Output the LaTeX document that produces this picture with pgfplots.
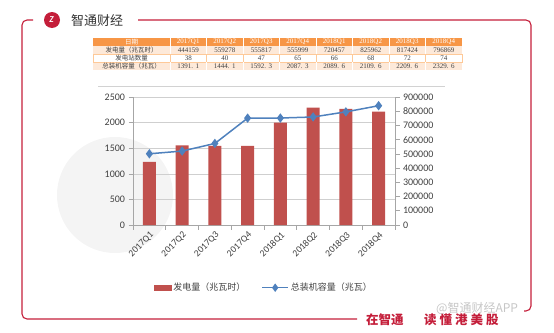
\documentclass[border=0pt]{standalone}
\usepackage{pgfplots}
\pgfplotsset{compat=1.18}
\usepackage{fontspec}
\setmainfont{Carlito}
\newfontfamily\cjk{Noto Sans CJK SC}
\newfontfamily\sernum{Liberation Serif}
\definecolor{barred}{HTML}{C0504D}
\definecolor{lineblue}{HTML}{4F81BD}
\definecolor{framered}{HTML}{C41E3A}
\definecolor{hdr}{HTML}{F79646}
\definecolor{rowbg}{HTML}{FDE9D9}
\definecolor{axgray}{HTML}{A6A6A6}
\definecolor{gridgray}{HTML}{CFCFCF}
\definecolor{lbl}{HTML}{404040}
\begin{document}
\begin{tikzpicture}[x=1pt,y=1pt]
\path[use as bounding box] (0pt,0pt) rectangle (554pt,-332pt);
% faint watermark disk
\fill[gray!9] (115,-195) circle (58pt);
% frame
\draw[framered, line width=1.1pt, rounded corners=5pt] (33,-20) -- (22,-20) -- (22,-319) -- (357,-319);
\draw[framered, line width=1.1pt, rounded corners=5pt] (138,-20) -- (531,-20) -- (531,-311) -- (524,-311);
% logo
\fill[framered] (52,-20) circle (8pt);
\node[white, font=\bfseries\itshape\fontsize{9}{9}\selectfont, inner sep=0pt] at (51.5,-20) {Z};
\node[anchor=west, font=\cjk\fontsize{13}{13}\selectfont, text=black!80, inner sep=0pt] at (71,-20.5) {智通财经};
% bottom slogan
\node[anchor=west, text=framered, font=\cjk\bfseries\fontsize{12.5}{12.5}\selectfont, inner sep=0pt] at (366,-320) {在智通};
\node[anchor=west, text=framered, font=\cjk\bfseries\fontsize{12.5}{12.5}\selectfont, inner sep=0pt] at (424,-320) {读\hspace{3pt}懂\hspace{3pt}港\hspace{3pt}美\hspace{3pt}股};
\node[anchor=west, text=gray!45, font=\cjk\fontsize{12}{12}\selectfont, inner sep=0pt] at (436,-308) {@智通财经APP};
% chart area top border
\draw[gray!35, line width=0.6pt] (98,-86) -- (445,-86);
% table
\fill[hdr] (93,-37.6) rectangle (462,-45.7);
\fill[rowbg] (93,-45.7) rectangle (462,-53.8);
\fill[white] (93,-53.8) rectangle (462,-61.9);
\fill[rowbg] (93,-61.9) rectangle (462,-70);
\draw[rowbg!70!orange, line width=0.3pt] (93,-53.8) rectangle (462,-61.9);
\foreach \i in {0,...,7} {
  \draw[white, line width=0.5pt] ({170+36.5*\i},-37.6) -- ({170+36.5*\i},-53.8);
  \draw[white, line width=0.5pt] ({170+36.5*\i},-61.9) -- ({170+36.5*\i},-70);
  \draw[rowbg!70!orange, line width=0.3pt] ({170+36.5*\i},-53.8) -- ({170+36.5*\i},-61.9);
}
\node[text=white, font=\cjk\fontsize{6.5}{6.5}\selectfont, inner sep=0pt] at (131.5,-41.7) {日期};
\node[text=lbl, font=\cjk\fontsize{6.5}{6.5}\selectfont, inner sep=0pt] at (131.5,-49.8) {发电量（兆瓦时）};
\node[text=lbl, font=\cjk\fontsize{6.5}{6.5}\selectfont, inner sep=0pt] at (131.5,-57.9) {发电站数量};
\node[text=lbl, font=\cjk\fontsize{6.5}{6.5}\selectfont, inner sep=0pt] at (131.5,-66) {总装机容量（兆瓦）};
\foreach \q [count=\i from 0] in {2017Q1,2017Q2,2017Q3,2017Q4,2018Q1,2018Q2,2018Q3,2018Q4}
  \node[text=white, font=\sernum\fontsize{7}{7}\selectfont, inner sep=0pt] at ({188.25+36.5*\i},-41.7) {\q};
\foreach \q [count=\i from 0] in {444159,559278,555817,555999,720457,825962,817424,796869}
  \node[text=lbl, font=\sernum\fontsize{7}{7}\selectfont, inner sep=0pt] at ({188.25+36.5*\i},-49.8) {\q};
\foreach \q [count=\i from 0] in {38,40,47,65,66,68,72,74}
  \node[text=lbl, font=\sernum\fontsize{7}{7}\selectfont, inner sep=0pt] at ({188.25+36.5*\i},-57.9) {\q};
\foreach \q [count=\i from 0] in {1391. 1,1444. 1,1592. 3,2087. 3,2089. 6,2109. 6,2209. 6,2329. 6}
  \node[text=lbl, font=\sernum\fontsize{7}{7}\selectfont, inner sep=0pt] at ({188.25+36.5*\i},-66) {\q};

\pgfplotsset{
  base/.style={scale only axis, width=262pt, height=128pt, at={(133pt,-225pt)}, anchor=south west,
    xmin=-0.5, xmax=7.5, tick label style={font=\fontsize{10}{10}\selectfont, text=lbl},
    axis line style={axgray, line width=0.6pt}, tick style={axgray, line width=0.6pt}, tick align=outside,
    major tick length=4.5pt, minor tick length=4.5pt,
    /pgf/number format/assume math mode=true,
    yticklabel style={/pgf/number format/fixed, /pgf/number format/1000 sep={}}},
}
% axis A: left axis, grid, categories, legend
\begin{axis}[base,
  axis y line*=left, axis x line*=bottom,
  ymin=0, ymax=2500, ytick={0,500,...,2500},
  ymajorgrids, grid style={gridgray, line width=0.6pt},
  xtick={0,...,7},
  xticklabels={2017Q1,2017Q2,2017Q3,2017Q4,2018Q1,2018Q2,2018Q3,2018Q4},
  major x tick style={draw=none},
  minor xtick={-0.5,0.5,...,7.5},
  xticklabel style={rotate=45, anchor=north east, inner sep=1pt, font=\fontsize{9.5}{9.5}\selectfont},
  legend style={at={(0.5,-0.49)}, anchor=center, draw=none, fill=none, legend columns=2,
    font=\cjk\fontsize{9}{9}\selectfont, text=lbl,
    /tikz/every even column/.append style={column sep=14pt}},
]
\addlegendimage{legend image code/.code={\fill[barred] (0pt,-2.6pt) rectangle (17pt,2.6pt);}}
\addlegendentry{发电量（兆瓦时）}
\addlegendimage{lineblue, line width=1.5pt, mark=diamond*, mark size=3pt,
  legend image code/.code={\draw[mark repeat=2,mark phase=2] plot coordinates {(0pt,0pt) (13pt,0pt) (26pt,0pt)};}}
\addlegendentry{总装机容量（兆瓦）}
\end{axis}
% axis B: bars on right axis
\begin{axis}[base,
  axis y line*=right, axis x line=none,
  ymin=0, ymax=900000, ytick={0,100000,...,900000},
  scaled y ticks=false,
]
\addplot[ybar, bar width=13pt, fill=barred, draw=none] coordinates {
(0,444159) (1,559278) (2,555817) (3,555999) (4,720457) (5,825962) (6,817424) (7,796869)};
\end{axis}
% axis C: line on left scale
\begin{axis}[base, axis lines=none, ymin=0, ymax=2500, clip=false]
\addplot[lineblue, line width=1.5pt, mark=diamond*, mark size=3.5pt] coordinates {
(0,1391.1) (1,1444.1) (2,1592.3) (3,2087.3) (4,2089.6) (5,2109.6) (6,2209.6) (7,2329.6)};
\end{axis}
\end{tikzpicture}
\end{document}
